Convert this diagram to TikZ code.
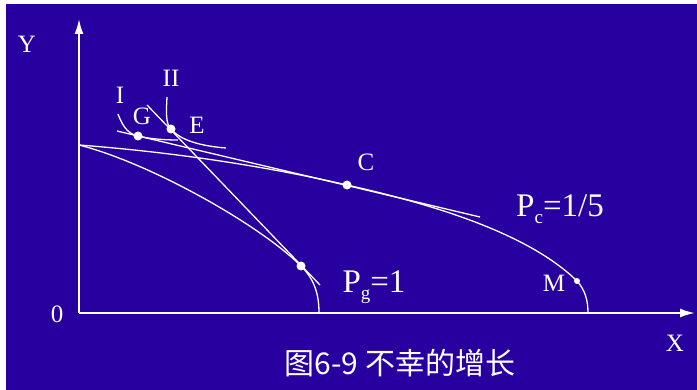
\documentclass[tikz,border=0pt]{standalone}
\usepackage{fontspec}
\setmainfont{Liberation Serif}
\newfontfamily\cjk{Noto Sans CJK SC}
\usetikzlibrary{arrows.meta}
\definecolor{bgblue}{RGB}{40,0,160}
\tikzset{
  curve/.style={draw=white,line width=1.3pt},
  axis/.style={draw=white,line width=2pt,-{Latex[length=15pt,width=9pt]}},
  dot/.style={circle,fill=white,inner sep=0pt,minimum size=#1},
  dot/.default=9pt,
  lbl/.style={text=white,font=\fontsize{25pt}{30pt}\selectfont},
  biglbl/.style={text=white,font=\fontsize{33pt}{38pt}\selectfont},
}
\newcommand\lowsub[1]{\raisebox{-0.2em}{\fontsize{19pt}{19pt}\selectfont#1}}

\begin{document}
\begin{tikzpicture}[x=1pt,y=-1pt]
\fill[white] (0,0) rectangle (697,390);
\fill[bgblue] (6,4) rectangle (697,390);
\useasboundingbox (0,0) rectangle (697,390);

\coordinate (O) at (79,313);
\coordinate (ytip) at (79,19);
\coordinate (xtip) at (695,313);
\coordinate (A) at (79,145);
\coordinate (B) at (319,313);
\coordinate (Bout) at (588,313);
\coordinate (ptop) at (147,105);
\coordinate (pend) at (320,285);
\coordinate (cstart) at (117,131);
\coordinate (cend) at (480,217);

\draw[axis] (O) -- (ytip);
\draw[axis] (O) -- (xtip);

\node[dot] (D) at (301,266) {};
\node[dot] (C) at (347,185) {};
\node[dot=6pt] (M) at (577,281) {};
\node[dot] (G) at (138,136) {};
\node[dot] (E) at (171,129) {};

\draw[curve] (A) .. controls (150,163) and (260,225) .. (D.center)
  .. controls (315,280) and (319,295) .. (B);
\draw[curve] (A) .. controls (170,152) and (260,165) .. (C.center)
  .. controls (440,206) and (530,235) .. (M.center)
  .. controls (585,290) and (588,300) .. (Bout);
\draw[curve] (ptop) -- (pend);
\draw[curve] (cstart) -- (cend);
\draw[curve] (118,114) .. controls (124,130) and (130,134) .. (G.center)
  .. controls (150,139) and (165,140) .. (178,140);
\draw[curve] (167,97) .. controls (166,115) and (166,124) .. (E.center)
  .. controls (180,140) and (200,146) .. (226,148);

\node[lbl] (ly) at (27,44) {Y};
\node[lbl] (lo) at (57,314) {0};
\node[lbl] (lx) at (675,343) {X};
\node[lbl] (lI) at (120,95) {I};
\node[lbl] (lII) at (171,78) {II};
\node[lbl] (lG) at (142,116) {G};
\node[lbl] (lE) at (197,125) {E};
\node[lbl] (lC) at (366,162) {C};
\node[lbl] (lM) at (554,283) {M};
\node[biglbl] (lpg) at (374,287) {P\lowsub{g}=1};
\node[biglbl] (lpc) at (560,209) {P\lowsub{c}=1/5};
\node[text=white,font=\cjk\fontsize{30pt}{34pt}\selectfont] (title) at (400,363) {图6-9 不幸的增长};
\end{tikzpicture}
\end{document}
